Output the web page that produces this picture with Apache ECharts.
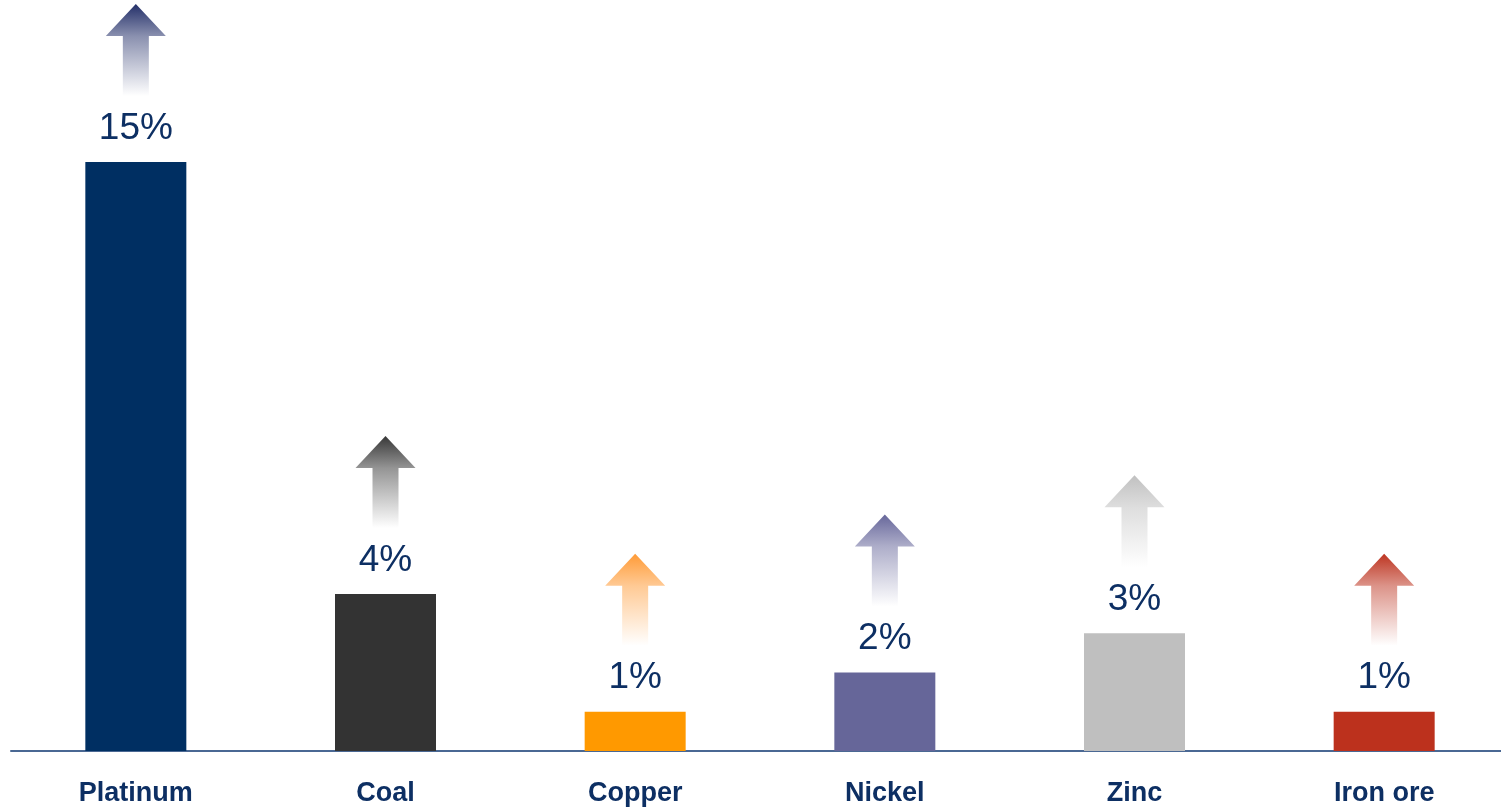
<!DOCTYPE html>
<html>
<head>
<meta charset="utf-8">
<script src="https://cdn.jsdelivr.net/npm/echarts@6/dist/echarts.min.js"></script>
<style>
  html, body { margin: 0; padding: 0; background: #ffffff; }
  #chart { width: 1501px; height: 808px; }
</style>
</head>
<body>
<div id="chart"></div>
<script>
// Commodity growth, percent
const categories = ['Platinum', 'Coal', 'Copper', 'Nickel', 'Zinc', 'Iron ore'];
const growth = [15, 4, 1, 2, 3, 1];

// Bar colours and the matching arrow colours
const barColors = ['#002F62', '#333333', '#FF9900', '#666699', '#BFBFBF', '#BC311D'];
const arrowColors = ['#1F2B66', '#333333', '#FF9933', '#646499', '#BFBFBF', '#BC311D'];

const NAVY = '#0D2F63';
const FONT = '"Liberation Sans", Arial, sans-serif';

// Arrow shape, in pixels, drawn above each bar
const ARROW_LIFT = 158;   // from bar top to arrow tip
const ARROW_LEN = 92;
const HEAD_LEN = 32;
const HEAD_HALF = 30;
const SHAFT_HALF = 13;

function hexToRgba(hex, a) {
  const n = parseInt(hex.slice(1), 16);
  return 'rgba(' + ((n >> 16) & 255) + ',' + ((n >> 8) & 255) + ',' + (n & 255) + ',' + a + ')';
}

const chart = echarts.init(document.getElementById('chart'), null, { renderer: 'canvas' });

chart.setOption({
  animation: false,
  backgroundColor: '#ffffff',
  grid: { left: 11, width: 1498, top: 162, bottom: 57, containLabel: false, outerBoundsMode: 'none' },
  xAxis: {
    type: 'category',
    data: categories,
    boundaryGap: true,
    axisLine: { show: true, lineStyle: { color: '#4A6893', width: 2 } },
    axisTick: { show: false },
    axisLabel: {
      color: NAVY,
      fontFamily: FONT,
      fontWeight: 'bold',
      fontSize: 27,
      margin: 29
    }
  },
  yAxis: {
    type: 'value',
    min: 0,
    max: 15,
    show: false,
    splitLine: { show: false }
  },
  series: [
    {
      type: 'bar',
      data: growth.map((v, i) => ({ value: v, itemStyle: { color: barColors[i] } })),
      barWidth: 101,
      label: {
        show: true,
        position: 'top',
        distance: 15,
        color: NAVY,
        fontFamily: FONT,
        fontSize: 37,
        formatter: p => p.value + '%'
      }
    },
    {
      type: 'custom',
      data: growth.map((v, i) => [i, v]),
      renderItem: function (params, api) {
        const pt = api.coord([api.value(0), api.value(1)]);
        const cx = pt[0];
        const ty = pt[1] - ARROW_LIFT;
        const hb = ty + HEAD_LEN;
        const by = ty + ARROW_LEN;
        const c = arrowColors[params.dataIndex];
        return {
          type: 'polygon',
          shape: {
            points: [
              [cx, ty],
              [cx + HEAD_HALF, hb],
              [cx + SHAFT_HALF, hb],
              [cx + SHAFT_HALF, by],
              [cx - SHAFT_HALF, by],
              [cx - SHAFT_HALF, hb],
              [cx - HEAD_HALF, hb]
            ]
          },
          style: {
            fill: new echarts.graphic.LinearGradient(0, 0, 0, 1, [
              { offset: 0, color: hexToRgba(c, 0.98) },
              { offset: 0.35, color: hexToRgba(c, 0.52) },
              { offset: 1, color: hexToRgba(c, 0) }
            ])
          }
        };
      },
      z: 3
    }
  ]
});
</script>
</body>
</html>
